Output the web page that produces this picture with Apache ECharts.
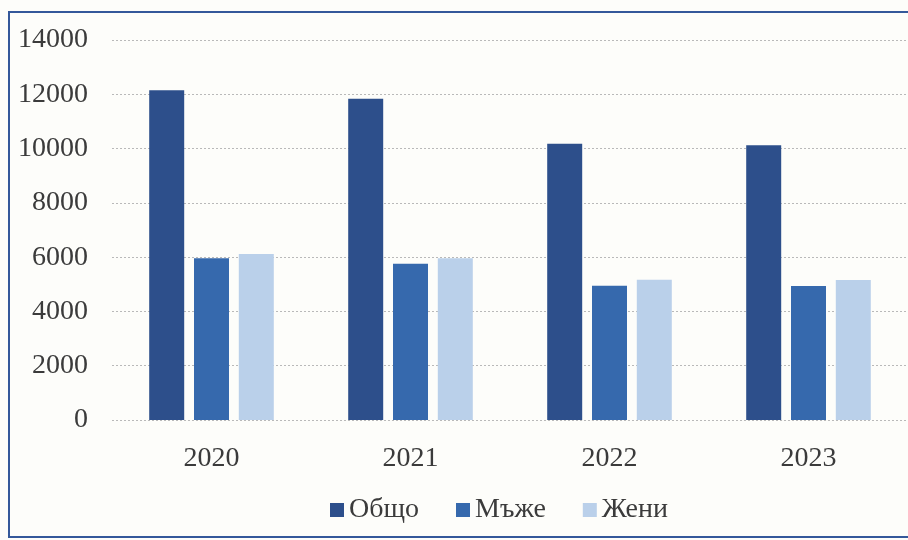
<!DOCTYPE html>
<html>
<head>
<meta charset="utf-8">
<script src="https://cdn.jsdelivr.net/npm/echarts@6/dist/echarts.min.js"></script>
<style>
  html, body { margin: 0; padding: 0; background: #fdfdfa; }
  #chart { width: 908px; height: 540px; }
</style>
</head>
<body>
<div id="chart"></div>
<script>
// data
const years = ["2020", "2021", "2022", "2023"];
const total = [12150, 11840, 10180, 10120];
const men = [5960, 5760, 4950, 4940];
const women = [6120, 5960, 5170, 5160];
const yTicks = { min: 0, max: 14000, step: 2000 };

const font = "Liberation Serif";
const textColor = "#3b3b3b";

const myChart = echarts.init(document.getElementById("chart"), null, {
  width: 908,
  height: 540,
});

function bar(name, data, color) {
  return {
    name: name,
    type: "bar",
    data: data,
    barWidth: 35,
    barGap: "28%",
    itemStyle: { color: color },
  };
}

myChart.setOption({
  backgroundColor: "#fdfdfa",
  animation: false,
  textStyle: { fontFamily: font },
  grid: { left: 112, right: 0, top: 40, bottom: 120 },
  // blue frame of the scanned figure
  graphic: [
    {
      type: "rect",
      shape: { x: 9, y: 12, width: 960, height: 525 },
      style: { fill: null, stroke: "#34589a", lineWidth: 2 },
      silent: true,
    },
  ],
  legend: {
    left: 325,
    top: 491,
    itemWidth: 14,
    itemHeight: 14,
    itemGap: 37,
    icon: "rect",
    textStyle: { fontFamily: font, fontSize: 28, color: textColor },
    data: ["Общо", "Мъже", "Жени"],
  },
  xAxis: {
    type: "category",
    data: years,
    axisLine: { show: false },
    axisTick: { show: false },
    axisLabel: { fontFamily: font, fontSize: 28, color: textColor, margin: 25 },
  },
  yAxis: {
    type: "value",
    min: yTicks.min,
    max: yTicks.max,
    interval: yTicks.step,
    axisLine: { show: false },
    axisTick: { show: false },
    axisLabel: {
      fontFamily: font,
      fontSize: 28,
      color: textColor,
      margin: 24,
      formatter: (v) => String(v),
    },
    splitLine: { lineStyle: { color: "#b9b9b9", width: 1, type: [2, 2] } },
  },
  series: [
    bar("Общо", total, "#2d4f8b"),
    bar("Мъже", men, "#3669ad"),
    bar("Жени", women, "#bad0ea"),
  ],
});
</script>
</body>
</html>
